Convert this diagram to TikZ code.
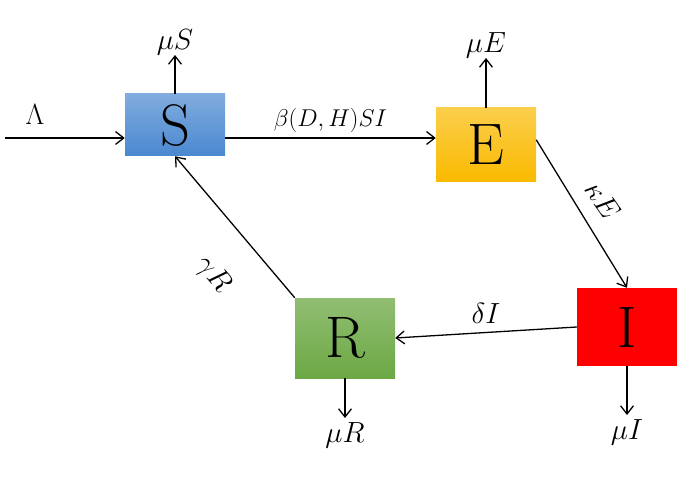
\documentclass[tikz,border=0pt]{standalone}
\usetikzlibrary{arrows.meta}
\definecolor{sblue}{RGB}{74,136,208}
\definecolor{eorange}{RGB}{250,186,0}
\definecolor{ired}{RGB}{255,0,0}
\definecolor{rgreen}{RGB}{108,168,68}
\tikzset{
  box/.style={minimum width=100*0.03cm, minimum height=62*0.03cm, inner sep=0pt,
    font=\fontsize{50}{50}\selectfont},
  flow/.style={-{Straight Barb[length=7pt,width=11pt]}, line width=1.1pt},
  lbl/.style={font=\fontsize{30}{30}\selectfont, inner sep=1pt}
}
\begin{document}
\begin{tikzpicture}[x=0.03cm, y=-0.03cm]
\useasboundingbox (0,0) rectangle (689,478);
\node [box, top color=sblue!70, bottom color=sblue] (s) at (175,125) {S};
\node [box, top color=eorange!70, bottom color=eorange, minimum height=74*0.03cm] (e) at (486,145) {E};
\node [box, fill=ired, minimum height=78*0.03cm] (i) at (627,327) {I};
\node [box, top color=rgreen!75, bottom color=rgreen, minimum height=80*0.03cm] (r) at (345,338) {R};
\coordinate (in) at (5,138);
\coordinate (ms) at (175,55);
\coordinate (me) at (486,58);
\coordinate (mr) at (345,418);
\coordinate (mi) at (627,415);
\coordinate (kl) at (603,200);
\coordinate (gl) at (213,275);
\draw [flow] (in) -- (s.west |- in) node [lbl, pos=0.25, above=10pt] {$\Lambda$};
\draw [flow] (s.north) -- (ms) node [lbl, above=-2pt] {$\mu S$};
\draw [flow] (s.east |- in) -- (e.west |- in) node [lbl, midway, above=3pt, font=\fontsize{22}{22}\selectfont] {$\beta(D,H)SI$};
\draw [flow] (e.north) -- (me) node [lbl, above=-2pt] {$\mu E$};
\draw [flow] (e.north east) ++(0,32) coordinate (eo) -- (i.north);
\node [lbl, rotate=-55] (kappa) at (kl) {$\kappa E$};
\draw [flow] (i.west) -- (r.east) node [lbl, midway, above=6pt] {$\delta I$};
\draw [flow] (r.north west) -- (s.south);
\node [lbl, rotate=-50] (gamma) at (gl) {$\gamma R$};
\draw [flow] (r.south) -- (mr) node [lbl, below=2pt] {$\mu R$};
\draw [flow] (i.south) -- (mi) node [lbl, below=2pt] {$\mu I$};
\end{tikzpicture}
\end{document}
